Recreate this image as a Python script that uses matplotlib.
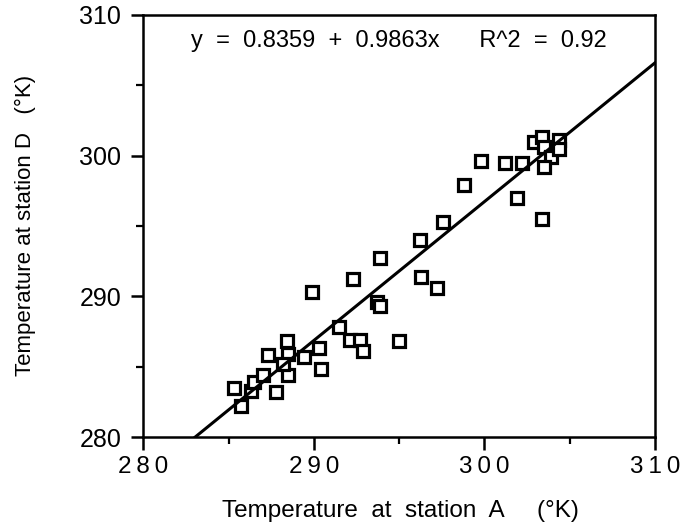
import matplotlib
matplotlib.use("Agg")
import matplotlib.pyplot as plt
import numpy as np
from matplotlib.ticker import MultipleLocator

plt.rcParams['font.family'] = ['Liberation Sans', 'DejaVu Sans']

station_a = [285.3, 285.7, 286.3, 286.5, 287.0, 287.3, 287.8, 288.5, 288.4, 288.5,
             288.2, 289.4, 290.3, 290.4, 289.9, 291.5, 292.1, 292.7, 292.9, 292.3,
             293.7, 293.9, 293.9, 295.0, 296.3, 297.2, 296.2, 297.6, 298.8, 299.8,
             301.2, 302.2, 301.9, 303.4, 302.9, 303.4, 303.5, 303.9, 303.5, 304.4,
             304.4]
station_d = [283.5, 282.2, 283.3, 283.9, 284.4, 285.8, 283.2, 284.4, 286.8, 285.9,
             285.2, 285.7, 286.3, 284.8, 290.3, 287.8, 286.9, 286.9, 286.1, 291.2,
             289.6, 289.3, 292.7, 286.8, 291.4, 290.6, 294.0, 295.3, 297.9, 299.6,
             299.5, 299.5, 297.0, 295.5, 301.0, 301.3, 300.6, 299.9, 299.2, 301.1,
             300.5]
intercept = 0.8359
slope = 0.9863
r2 = 0.92
x_ticks = [280, 290, 300, 310]
y_ticks = [280, 290, 300, 310]

fig = plt.figure(figsize=(6.96, 5.31), dpi=100)
ax = fig.add_axes([0.206, 0.177, 0.735, 0.795])

ax.plot(station_a, station_d, linestyle='none', marker='s', markersize=8.5,
        markerfacecolor='white', markeredgecolor='black', markeredgewidth=2.3)

xl = np.array([280.0, 310.0])
ax.plot(xl, intercept + slope * xl, color='black', linewidth=2.2)

ax.set_xlim(280, 310)
ax.set_ylim(280, 310)
ax.xaxis.set_minor_locator(MultipleLocator(5))
ax.yaxis.set_minor_locator(MultipleLocator(5))

for s in ax.spines.values():
    s.set_linewidth(1.8)

ax.set_xticks(x_ticks)
ax.set_xticklabels(['\u2009'.join(str(t)) for t in x_ticks], fontsize=17.5)
ax.set_yticks(y_ticks)
ax.set_yticklabels([str(t) for t in y_ticks], fontsize=18)

ax.tick_params(axis='both', which='major', direction='out', length=9, width=1.8)
ax.tick_params(axis='x', which='major', pad=5)
ax.tick_params(axis='y', which='major', pad=7)
ax.tick_params(axis='both', which='minor', direction='out', length=5, width=1.6)

ax.set_xlabel('Temperature  at  station  A     (°K)', fontsize=17.5)
ax.set_ylabel('Temperature at station D   (°K)', fontsize=16)
ax.xaxis.set_label_coords(0.503, -0.15)
ax.yaxis.set_label_coords(-0.21, 0.502)

ax.text(0.5, 0.924, f'y  =  {intercept}  +  {slope}x      R^2  =  {r2}',
        transform=ax.transAxes, ha='center', va='baseline', fontsize=17)

fig.savefig('out.png', dpi=100)
